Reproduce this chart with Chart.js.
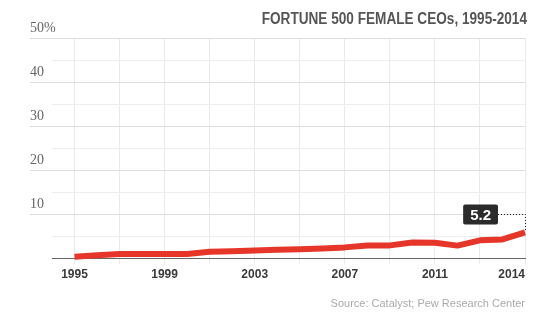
<!DOCTYPE html>
<html>
<head>
<meta charset="utf-8">
<title>Fortune 500 female CEOs, 1995-2014</title>
<script src="https://cdn.jsdelivr.net/npm/chart.js@4.4.1/dist/chart.umd.min.js"></script>
<style>
  html, body { margin: 0; padding: 0; background: #fff; }
  #wrap { width: 545px; height: 332px; }
</style>
</head>
<body>
<div id="wrap"><canvas id="chart" width="545" height="332"></canvas></div>
<script>
// points are evenly spaced, the axis only names every 4th one
const positions = [0, 1, 2, 3, 4, 5, 6, 7, 8, 9, 10, 11, 12, 13, 14, 15, 16, 17, 18, 19, 20];
const femaleShare = [0.4, 0.7, 1.0, 1.0, 1.0, 1.0, 1.5, 1.65, 1.8, 1.95, 2.1, 2.25, 2.5, 2.95, 2.95, 3.6, 3.55, 2.9, 4.1, 4.3, 5.9];
const tickIndex = [0, 4, 8, 12, 16, 20];
const tickText = ['1995', '1999', '2003', '2007', '2011', '2014'];
const yLabels = { 50: '50%', 40: '40', 30: '30', 20: '20', 10: '10' };
const calloutText = '5.2';
const titleText = 'FORTUNE 500 FEMALE CEOs, 1995-2014';

const lineRed = '#e6362a';

// condensed bold headline, right aligned over the plot
const headlinePlugin = {
    id: 'headline',
    afterDraw(chart) {
        const ctx = chart.ctx;
        ctx.save();
        ctx.font = 'bold 16px "Liberation Sans", Arial, sans-serif';
        ctx.fillStyle = '#555';
        ctx.textAlign = 'right';
        ctx.textBaseline = 'middle';
        ctx.translate(chart.chartArea.right + 2, 20);
        ctx.scale(0.85, 1);
        ctx.fillText(titleText, 0, 0);
        ctx.restore();
    }
};

// dark box with the latest value, tied to the last point with a dotted leader
const calloutPlugin = {
    id: 'callout',
    afterDatasetsDraw(chart) {
        const meta = chart.getDatasetMeta(0);
        const pt = meta.data[meta.data.length - 1];
        const ctx = chart.ctx;
        ctx.save();
        ctx.font = 'bold 15px "Liberation Sans", Arial, sans-serif';
        const w = ctx.measureText(calloutText).width + 14;
        const h = 20;
        const right = pt.x - 27;
        const cy = pt.y - 18;

        ctx.setLineDash([1, 2]);
        ctx.strokeStyle = '#222';
        ctx.lineWidth = 1;
        ctx.beginPath();
        ctx.moveTo(right, Math.round(cy) + 0.5);
        ctx.lineTo(Math.round(pt.x) + 0.5, Math.round(cy) + 0.5);
        ctx.lineTo(Math.round(pt.x) + 0.5, pt.y - 2);
        ctx.stroke();
        ctx.setLineDash([]);

        ctx.fillStyle = '#2b2b2b';
        ctx.beginPath();
        ctx.roundRect(right - w, cy - h / 2, w, h, 2);
        ctx.fill();

        ctx.fillStyle = '#fff';
        ctx.textAlign = 'center';
        ctx.textBaseline = 'middle';
        ctx.fillText(calloutText, right - w / 2, cy + 1);
        ctx.restore();
    }
};

const ctx = document.getElementById('chart').getContext('2d');
new Chart(ctx, {
    type: 'line',
    data: {
        datasets: [{
            data: positions.map((p, i) => ({ x: p, y: femaleShare[i] })),
            borderColor: lineRed,
            borderWidth: 6,
            pointRadius: 0,
            tension: 0,
            borderJoinStyle: 'round',
            clip: false
        }]
    },
    options: {
        responsive: false,
        animation: false,
        devicePixelRatio: 1,
        layout: { padding: { left: 30, right: 20, top: 38, bottom: 21 } },
        plugins: {
            legend: { display: false },
            tooltip: { enabled: false },
            title: { display: false },
            subtitle: {
                display: true,
                position: 'bottom',
                align: 'end',
                text: 'Source: Catalyst; Pew Research Center',
                color: '#aaa',
                font: { family: "'Liberation Sans', Arial, sans-serif", size: 11 },
                padding: { top: 13, bottom: 0 }
            }
        },
        scales: {
            x: {
                type: 'linear',
                min: -1,
                max: 20,
                ticks: {
                    stepSize: 1,
                    autoSkip: false,
                    maxRotation: 0,
                    align: 'inner',
                    padding: 3,
                    color: '#3a3a3a',
                    font: { family: "'Liberation Sans', Arial, sans-serif", size: 12, weight: 'bold' },
                    callback: (v) => {
                        const k = tickIndex.indexOf(v);
                        return k >= 0 ? tickText[k] : '';
                    }
                },
                grid: {
                    color: (c) => (c.tick && c.tick.value >= 0 && c.tick.value % 2 === 0) ? '#e9e9ee' : 'rgba(0,0,0,0)',
                    tickLength: 6,
                    drawTicks: true
                },
                border: { color: '#666', width: 1 }
            },
            y: {
                min: 0,
                max: 50,
                ticks: {
                    stepSize: 5,
                    mirror: true,
                    crossAlign: 'near',
                    labelOffset: -10,
                    padding: -22,
                    color: '#666',
                    font: { family: "'Liberation Serif', 'DejaVu Serif', serif", size: 14 },
                    callback: (v) => yLabels[v] || ''
                },
                grid: {
                    color: (c) => {
                        const v = c.tick.value;
                        if (v === 0) return 'rgba(0,0,0,0)';
                        return v % 10 === 0 ? '#dcdcdc' : '#ededf0';
                    },
                    tickColor: (c) => (c.tick.value > 0 && c.tick.value % 10 === 0) ? '#dcdcdc' : 'rgba(0,0,0,0)',
                    tickLength: 22,
                    drawTicks: true
                },
                border: { display: false },
                afterFit: (s) => { s.width = 22; }
            }
        }
    },
    plugins: [calloutPlugin, headlinePlugin]
});
</script>
</body>
</html>
